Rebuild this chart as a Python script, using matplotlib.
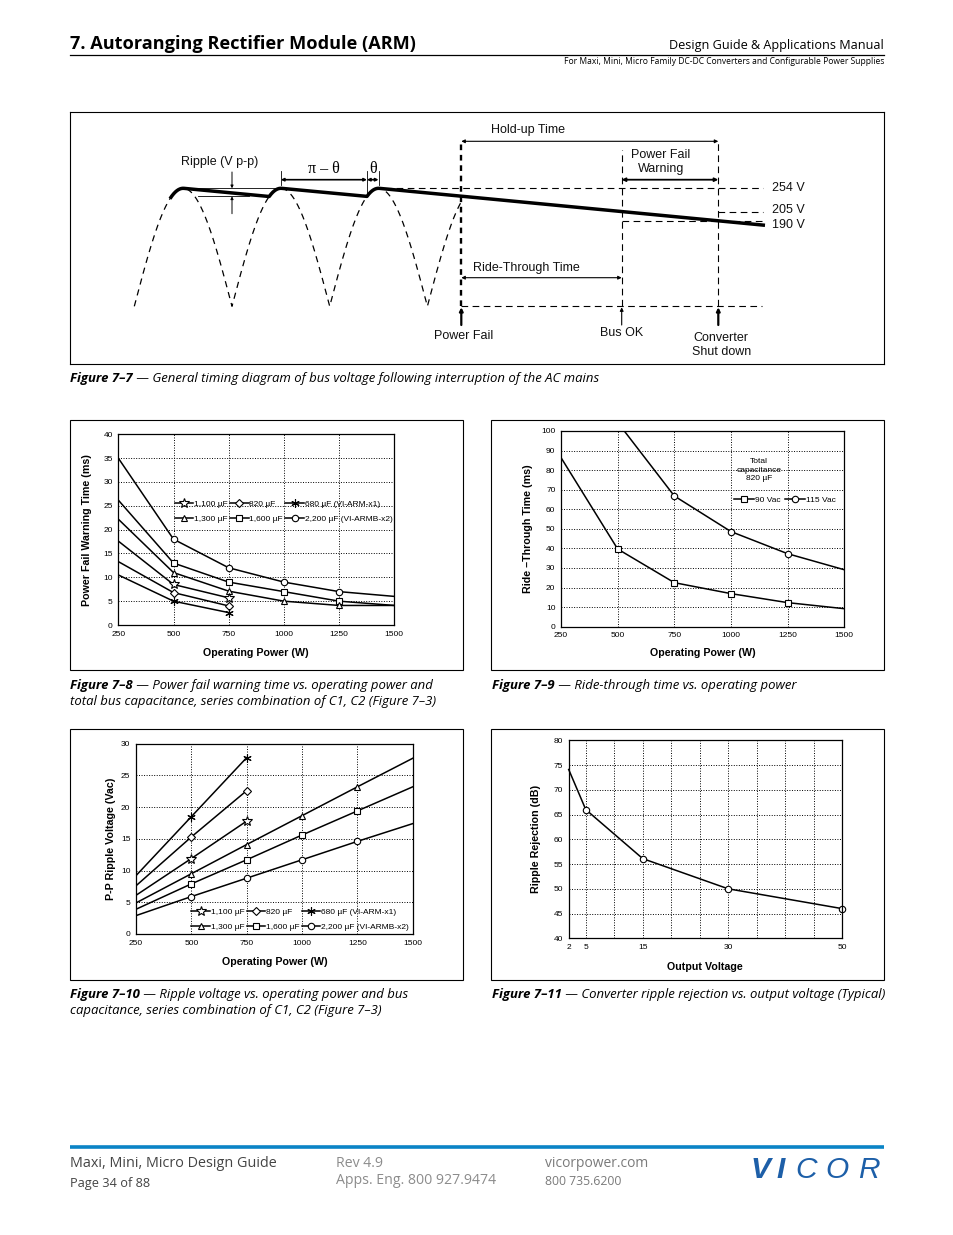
import numpy as np
import matplotlib
matplotlib.use('Agg')
import matplotlib.pyplot as plt
from matplotlib.lines import Line2D
from matplotlib.patches import Rectangle

# ---------------- data ----------------
power = [250, 500, 750, 1000, 1250, 1500]

# Figure 7-8: power fail warning time (ms)
warn_2200 = [35.0, 18.0, 12.0, 9.0, 7.0, 6.0]
warn_1600 = [26.2, 13.0, 9.0, 7.0, 5.0, 4.1]
warn_1300 = [22.2, 11.0, 7.1, 5.0, 4.1, 4.1]
warn_1100 = [17.6, 8.5, 5.7]
warn_820 = [13.3, 6.8, 4.0]
warn_680 = [10.5, 5.0, 2.6]

# Figure 7-9: ride-through time (ms), 820 uF
ride_90 = [86.4, 39.7, 22.5, 16.9, 12.3, 9.2]
ride_115 = [104.4, 66.8, 48.6, 37.3, 29.1]   # at power[1:]

# Figure 7-10: P-P ripple voltage (Vac)
rip_680 = [9.2, 18.5, 27.8]
rip_820 = [7.6, 15.3, 22.6]
rip_1100 = [6.1, 11.9, 17.8]
rip_1300 = [4.9, 9.5, 14.1, 18.65, 23.2, 27.7]
rip_1600 = [3.9, 7.9, 11.7, 15.6, 19.4, 23.2]
rip_2200 = [2.9, 5.9, 8.8, 11.7, 14.6, 17.4]

# Figure 7-11: ripple rejection (dB)
vout = [2, 5, 15, 30, 50]
rejection = [74.1, 66.0, 56.1, 50.0, 46.0]

cap_labels_top = ['1,100 \u00b5F', '820 \u00b5F', '680 \u00b5F (VI-ARM-x1)']
cap_labels_bot = ['1,300 \u00b5F', '1,600 \u00b5F', '2,200 \u00b5F (VI-ARMB-x2)']
level_labels = ['254 V', '205 V', '190 V']

# Figure 7-7 schematic model (diagram units)
HALF_PERIOD = 97.7
T_TROUGH0 = 64.3
AMP = 118.0
BASE = 57.7
DECAY = 0.0958
T_START = 100.0
T_FAIL = 391.3
T_BUSOK = 551.7
T_SHUT = 648.3
T_END = 695.0

# ---------------- figure ----------------
W, H = 954, 1235
fig = plt.figure(figsize=(W / 100, H / 100), dpi=100)
fig.patch.set_facecolor('white')
renderer = fig.canvas.get_renderer()

SANS = 'Liberation Sans'
HUM = 'Open Sans'


def fx(x):
    return x / W


def fy(y):
    return 1 - y / H


def px_axes(l, t, r, b):
    return fig.add_axes([l / W, 1 - b / H, (r - l) / W, (b - t) / H])


def box(l, t, r, b, lw=0.8):
    fig.add_artist(Rectangle((l / W, 1 - b / H), (r - l) / W, (b - t) / H,
                             transform=fig.transFigure, fill=False, lw=lw, ec='k'))


def text_width(s, size, **kw):
    t = fig.text(0, 0, s, fontsize=size, **kw)
    w = t.get_window_extent(renderer).width
    t.remove()
    return w


def fit_size(s, width, **kw):
    return 10 * width / text_width(s, 10, **kw)


def ftext(x, y, s, width=None, size=None, **kw):
    if width is not None:
        size = fit_size(s, width, **kw)
    return fig.text(fx(x), fy(y), s, fontsize=size, **kw)


# ---------------- header ----------------
ftext(70, 49, '7. Autoranging Rectifier Module (ARM)', width=346,
      family=HUM, weight='bold', va='baseline')
ftext(884, 49, 'Design Guide & Applications Manual', width=215,
      family=HUM, va='baseline', ha='right')
ftext(884, 64, 'For Maxi, Mini, Micro Family DC-DC Converters and Configurable Power Supplies',
      width=319, family=HUM, va='baseline', ha='right')
fig.add_artist(Line2D([fx(70), fx(884)], [fy(55), fy(55)], transform=fig.transFigure,
                      color='k', lw=0.9))

# ---------------- footer ----------------
fig.add_artist(Line2D([fx(70), fx(884)], [fy(1146.5), fy(1146.5)], transform=fig.transFigure,
                      color='#0a84c6', lw=2.6, solid_capstyle='butt'))
ftext(70, 1167, 'Maxi, Mini, Micro Design Guide', width=207, family=HUM, color='#444444', va='baseline')
ftext(70, 1187, 'Page 34 of 88', width=80, family=HUM, color='#444444', va='baseline')
ftext(336, 1167, 'Rev 4.9', width=47, family=HUM, color='#8c8c8c', va='baseline')
ftext(336, 1184, 'Apps. Eng. 800 927.9474', width=160, family=HUM, color='#8c8c8c', va='baseline')
ftext(545, 1167, 'vicorpower.com', width=103, family=HUM, color='#7a7a7a', va='baseline')
ftext(545, 1185, '800 735.6200', width=77, family=HUM, color='#7a7a7a', va='baseline')
for letter, xl, wt in [('V', 751, 'heavy'), ('I', 776, 'heavy'), ('C', 795, 'normal'),
                       ('O', 825, 'normal'), ('R', 858, 'normal')]:
    ftext(xl, 1178, letter, size=21.5, family=SANS, style='italic', weight=wt,
          color='#1d5fa8', va='baseline')

# ---------------- captions ----------------
cap_ref_b = 'Figure 7\u20137'
cap_ref_r = ' \u2014 General timing diagram of bus voltage following interruption of the AC mains'
w10 = (text_width(cap_ref_b, 10, family=HUM, style='italic', weight='bold') +
       text_width(cap_ref_r, 10, family=HUM, style='italic'))
CAP = 10 * 527 / w10


def caption(x, y, bold, rest, line2=None, dy=16):
    t = ftext(x, y, bold, size=CAP, family=HUM, style='italic', weight='bold', va='baseline')
    wb = t.get_window_extent(renderer).width
    ftext(x + wb, y, rest, size=CAP, family=HUM, style='italic', va='baseline')
    if line2:
        ftext(x, y + dy, line2, size=CAP, family=HUM, style='italic', va='baseline')


caption(70, 382, cap_ref_b, cap_ref_r)
caption(70, 689, 'Figure 7\u20138', ' \u2014 Power fail warning time vs. operating power and',
        'total bus capacitance, series combination of C1, C2 (Figure 7\u20133)')
caption(492, 689, 'Figure 7\u20139', ' \u2014 Ride-through time vs. operating power')
caption(70, 998, 'Figure 7\u201310', ' \u2014 Ripple voltage vs. operating power and bus',
        'capacitance, series combination of C1, C2 (Figure 7\u20133)')
caption(492, 998, 'Figure 7\u201311', ' \u2014 Converter ripple rejection vs. output voltage (Typical)')

# ---------------- Figure 7-7 timing diagram ----------------
ax0 = px_axes(70, 112, 884, 364)
ax0.set_xlim(0, 814)
ax0.set_ylim(0, 252)
ax0.set_xticks([])
ax0.set_yticks([])
for s in ax0.spines.values():
    s.set_linewidth(0.8)


def sine(t):
    return BASE + AMP * np.abs(np.sin(np.pi * (t - T_TROUGH0) / HALF_PERIOD))


t = np.linspace(T_START, T_END, 6000)
v = np.empty_like(t)
v[0] = sine(t[0])
follow = np.zeros(t.size, dtype=bool)
follow[0] = True
for i in range(1, t.size):
    dec = v[i - 1] - DECAY * (t[i] - t[i - 1])
    s_ = sine(t[i])
    if t[i] < T_FAIL and s_ >= dec:
        v[i] = s_
        follow[i] = True
    else:
        v[i] = dec
captures = t[1:][follow[1:] & ~follow[:-1]]
peaks = T_TROUGH0 + (np.arange(3) + 0.5) * HALF_PERIOD
PEAK = BASE + AMP


def v_at(tt):
    return float(np.interp(tt, t, v))


ripple_low = v_at(captures[0])
lvl_busok = v_at(T_BUSOK)
lvl_shut = v_at(T_SHUT)

ta = np.linspace(T_TROUGH0, T_FAIL, 3000)
ax0.plot(ta, sine(ta), color='k', lw=0.9, ls=(0, (5, 4)))
ax0.plot(t, v, color='k', lw=2.5, solid_capstyle='butt')

dash = (0, (6, 4))
ax0.plot([peaks[2] + 6, T_END - 2], [PEAK, PEAK], color='k', lw=0.8, ls=dash)
ax0.plot([T_SHUT, T_END - 2], [lvl_busok, lvl_busok], color='k', lw=0.8, ls=dash)
ax0.plot([T_BUSOK, T_END - 2], [lvl_shut, lvl_shut], color='k', lw=0.8, ls=dash)
ax0.plot([T_FAIL, T_END - 3], [BASE, BASE], color='k', lw=0.8, ls=dash)

HOLD_Y = 222.7
ax0.plot([T_FAIL, T_FAIL], [BASE, HOLD_Y], color='k', lw=1.7, ls=(0, (2.4, 2.0)))
ax0.plot([T_BUSOK, T_BUSOK], [BASE, 214], color='k', lw=0.8, ls=dash)
ax0.plot([T_SHUT, T_SHUT], [BASE, HOLD_Y], color='k', lw=0.8, ls=dash)

DFONT = dict(family=SANS, fontsize=9, color='#111111')


def arrow(x1, y1, x2, y2, style='<|-|>', lw=0.8, ms=5):
    ax0.annotate('', xy=(x2, y2), xytext=(x1, y1),
                 arrowprops=dict(arrowstyle=style, lw=lw, color='k', mutation_scale=ms,
                                 shrinkA=0, shrinkB=0))


arrow(T_FAIL, HOLD_Y, T_SHUT, HOLD_Y)
ax0.text(458, 234, 'Hold-up Time', ha='center', va='center', **DFONT)
arrow(T_BUSOK, 184.3, T_SHUT, 184.3, lw=1.3)
ax0.text(590.7, 202, 'Power Fail\nWarning', ha='center', va='center', linespacing=1.3, **DFONT)
arrow(T_FAIL, 86.3, T_BUSOK, 86.3)
ax0.text(456.7, 96.3, 'Ride-Through Time', ha='center', va='center', **DFONT)

arrow(T_FAIL, 39, T_FAIL, BASE - 1, style='-|>', lw=1.6)
arrow(T_BUSOK, 39, T_BUSOK, BASE - 1, style='-|>', lw=0.8)
arrow(T_SHUT, 39, T_SHUT, BASE - 1, style='-|>', lw=1.6)
ax0.text(T_FAIL + 2, 28, 'Power Fail', ha='center', va='center', **DFONT)
ax0.text(T_BUSOK, 31, 'Bus OK', ha='center', va='center', **DFONT)
ax0.text(T_SHUT + 3, 19, 'Converter\nShut down', ha='center', va='center', linespacing=1.3, **DFONT)

ax0.text(T_END + 7, PEAK, level_labels[0], ha='left', va='center', **DFONT)
ax0.text(T_END + 7, lvl_busok + 2, level_labels[1], ha='left', va='center', **DFONT)
ax0.text(T_END + 7, v[-1], level_labels[2], ha='left', va='center', **DFONT)

# ripple annotation
x_r = T_TROUGH0 + HALF_PERIOD
ax0.plot([peaks[0], captures[0] + 8], [PEAK, PEAK], color='k', lw=0.6)
ax0.plot([peaks[0] + 15, captures[0] - 20], [ripple_low, ripple_low], color='k', lw=0.6)
arrow(x_r, 192, x_r, PEAK, style='-|>', lw=0.7, ms=4)
arrow(x_r, 150.3, x_r, ripple_low, style='-|>', lw=0.7, ms=4)
ax0.text(150, 202, 'Ripple (V p-p)', ha='center', va='center', **DFONT)

# pi - theta annotation
for xt, yb in [(peaks[1], 179), (captures[1], 170.3), (peaks[2], 179)]:
    ax0.plot([xt, xt], [193, yb], color='k', lw=0.6)
arrow(peaks[1], 184.3, captures[1], 184.3, lw=1.2, ms=4)
arrow(captures[1], 184.3, peaks[2], 184.3, lw=1.2, ms=4)
ax0.text((peaks[1] + captures[1]) / 2, 195, '\u03c0 \u2013 \u03b8', ha='center', va='center',
         family='Liberation Serif', fontsize=11.5)
ax0.text((captures[1] + peaks[2]) / 2 + 0.5, 195, '\u03b8', ha='center', va='center',
         family='Liberation Serif', fontsize=11.5)

# ---------------- chart helpers ----------------
TICK = 6
LAB = 7.7
GRID = dict(color='k', lw=0.7, ls=(0, (1, 1.6)))


def style_chart(ax, xlim, ylim, xticks, yticks):
    ax.set_xlim(*xlim)
    ax.set_ylim(*ylim)
    ax.set_xticks(xticks)
    ax.set_yticks(yticks)
    ax.tick_params(length=0, labelsize=TICK, pad=4)
    for lab in ax.get_xticklabels() + ax.get_yticklabels():
        lab.set_family(SANS)
    for s in ax.spines.values():
        s.set_linewidth(0.9)
    ax.grid(True, **GRID)
    ax.set_axisbelow(True)


def labels(ax, xl, yl, xy, yx):
    ax.text(0.5, xy, xl, transform=ax.transAxes, ha='center', va='center',
            family=SANS, weight='bold', fontsize=LAB)
    ax.text(yx, 0.5, yl, transform=ax.transAxes, ha='center', va='center', rotation=90,
            family=SANS, weight='bold', fontsize=LAB)


MK = {
    'star': dict(marker='*', ms=7.5),
    'diamond': dict(marker='D', ms=3.6),
    'ast': dict(marker=(6, 2, 0), ms=6),
    'tri': dict(marker='^', ms=5),
    'sq': dict(marker='s', ms=4.3),
    'circ': dict(marker='o', ms=4.6),
}


def series(ax, x, y, mk, every, clip=True):
    ax.plot(x, y, color='k', lw=1.1, markevery=every, mfc='white', mec='k', mew=0.8,
            clip_on=clip, **MK[mk])


def handle(mk):
    return Line2D([0], [0], color='k', lw=1.1, mfc='white', mec='k', mew=0.8, **MK[mk])


def cap_legend(ax, anchor):
    hs = [handle('star'), handle('tri'), handle('diamond'), handle('sq'), handle('ast'), handle('circ')]
    ls = [cap_labels_top[0], cap_labels_bot[0], cap_labels_top[1], cap_labels_bot[1],
          cap_labels_top[2], cap_labels_bot[2]]
    ax.legend(hs, ls, ncol=3, loc='upper left', bbox_to_anchor=anchor, frameon=False,
              prop=dict(family=SANS, size=6), handlelength=2.2, handletextpad=0.1,
              columnspacing=0.3, labelspacing=0.85, borderpad=0, borderaxespad=0)


# ---------------- Figure 7-8 ----------------
box(70, 420, 463, 670)
ax1 = px_axes(118.3, 434.3, 394.3, 625)
style_chart(ax1, (250, 1500), (0, 40), power, np.arange(0, 41, 5))
series(ax1, power, warn_2200, 'circ', [1, 2, 3, 4])
series(ax1, power, warn_1600, 'sq', [1, 2, 3, 4])
series(ax1, power, warn_1300, 'tri', [1, 2, 3, 4])
series(ax1, power[:3], warn_1100, 'star', [1, 2])
series(ax1, power[:3], warn_820, 'diamond', [1, 2])
series(ax1, power[:3], warn_680, 'ast', [1, 2])
labels(ax1, 'Operating Power (W)', 'Power Fail Warning Time (ms)', -0.147, -0.1145)
cap_legend(ax1, (0.205, 0.655))

# ---------------- Figure 7-9 ----------------
box(491, 420, 884, 670)
ax2 = px_axes(561, 431, 844.3, 626.7)
style_chart(ax2, (250, 1500), (0, 100), power, np.arange(0, 101, 10))
series(ax2, power, ride_90, 'sq', [1, 2, 3, 4])
series(ax2, power[1:], ride_115, 'circ', [1, 2, 3])
labels(ax2, 'Operating Power (W)', 'Ride \u2013Through Time (ms)', -0.136, -0.1175)
ax2.text(0.699, 0.80, 'Total\ncapacitance\n820 \u00b5F', transform=ax2.transAxes, ha='center',
         va='center', family=SANS, fontsize=6, linespacing=1.35)
ax2.legend([handle('sq'), handle('circ')], ['90 Vac', '115 Vac'], ncol=2, loc='center left',
           bbox_to_anchor=(0.61, 0.647), frameon=False, prop=dict(family=SANS, size=6),
           handlelength=2.4, handletextpad=0.1, columnspacing=0.6, borderpad=0, borderaxespad=0)

# ---------------- Figure 7-10 ----------------
box(70, 729, 463, 980)
ax3 = px_axes(136, 743.7, 412.7, 934)
style_chart(ax3, (250, 1500), (0, 30), power, np.arange(0, 31, 5))
series(ax3, power[:3], rip_680, 'ast', [1, 2])
series(ax3, power[:3], rip_820, 'diamond', [1, 2])
series(ax3, power[:3], rip_1100, 'star', [1, 2])
series(ax3, power, rip_1300, 'tri', [1, 2, 3, 4])
series(ax3, power, rip_1600, 'sq', [1, 2, 3, 4])
series(ax3, power, rip_2200, 'circ', [1, 2, 3, 4])
labels(ax3, 'Operating Power (W)', 'P-P Ripple Voltage (Vac)', -0.149, -0.0915)
cap_legend(ax3, (0.2, 0.137))

# ---------------- Figure 7-11 ----------------
box(491, 729, 884, 980)
ax4 = px_axes(568.7, 740.3, 842, 938.3)
style_chart(ax4, (2, 50), (40, 80), vout, np.arange(40, 81, 5))
ax4.set_xticks(np.arange(10, 50, 5), minor=True)
ax4.tick_params(which='minor', length=0)
ax4.grid(True, which='minor', axis='x', **GRID)
ax4.plot(vout, rejection, color='k', lw=1.1, marker='o', ms=4.6, mfc='white', mec='k',
         mew=0.8, markevery=[1, 2, 3, 4], clip_on=False)
labels(ax4, 'Output Voltage', 'Ripple Rejection (dB)', -0.146, -0.12)

fig.savefig('out.png', dpi=100)
